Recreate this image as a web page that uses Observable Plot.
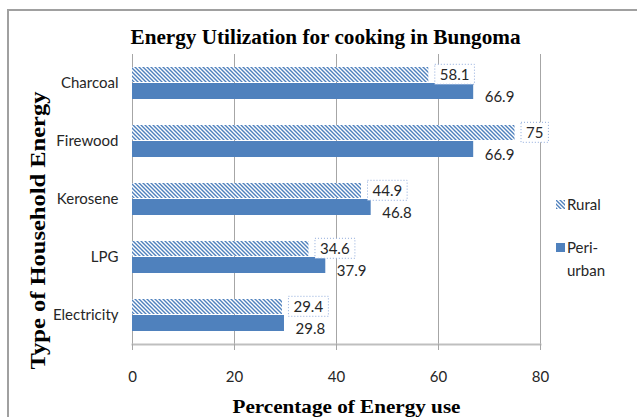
<!DOCTYPE html>
<html><head><meta charset="utf-8">
<script src="https://cdn.jsdelivr.net/npm/d3@7"></script>
<script src="https://cdn.jsdelivr.net/npm/@observablehq/plot@0.6"></script>
<style>
body{margin:0;overflow:hidden;background:#fff}
#wrap{position:relative;width:637px;height:417px;overflow:hidden}
#border{position:absolute;left:7px;top:9px;width:700px;height:500px;border:2px solid #a0a0a0;box-sizing:border-box}
.leg{position:absolute;font-family:Lato,sans-serif;font-size:15px;color:#262626;line-height:23px}
.sw{position:absolute;width:9px;height:9px}
</style>
</head><body>
<svg width="0" height="0" style="position:absolute"><defs>
<pattern id="hatch" patternUnits="userSpaceOnUse" width="4" height="4">
<rect width="4" height="4" fill="#fff"/>
<path d="M-1,-1L5,5M-1,3L1,5M3,-1L5,1" stroke="#4F81BD" stroke-width="1.4"/>
</pattern></defs></svg>
<div id="wrap"><div id="border"></div></div>
<script>
const categories = ["Charcoal","Firewood","Kerosene","LPG","Electricity"];
const rural = [58.1, 75, 44.9, 34.6, 29.4];
const periUrban = [66.9, 66.9, 46.8, 37.9, 29.8];
const xTicks = [0, 20, 40, 60, 80];
const seriesNames = ["Rural", "Peri-urban"];
const title = "Energy Utilization for cooking in Bungoma";
const xLabel = "Percentage of Energy use";
const yLabel = "Type of Household Energy";

const ruralData = categories.map((c, i) => ({category: c, value: rural[i]}));
const periData = categories.map((c, i) => ({category: c, value: periUrban[i]}));

const serif = "'Liberation Serif', 'Times New Roman', serif";

const chart = Plot.plot({
  width: 637, height: 417,
  marginLeft: 132, marginRight: 97, marginTop: 54, marginBottom: 73,
  style: {fontFamily: "Lato, sans-serif", fontSize: "15px", color: "#262626", background: "transparent"},
  x: {domain: [0, 80], label: null},
  y: {domain: categories, padding: 0, label: null},
  marks: [
    Plot.ruleX(xTicks, {stroke: "#a6a6a6", strokeWidth: 1}),
    Plot.frame({anchor: "bottom", stroke: "#bfbfbf", strokeWidth: 2}),
    Plot.axisX({ticks: xTicks, tickSize: 6, tickPadding: 21, stroke: "#a6a6a6", fill: "#262626", fontSize: 15, label: null}),
    Plot.axisY({tickSize: 0, tickPadding: 14, fill: "#262626", fontSize: 15, label: null}),
    Plot.barX(ruralData, {y: "category", x: "value", fill: "url(#hatch)", insetTop: 13, insetBottom: 30}),
    Plot.barX(periData, {y: "category", x: "value", fill: "#4F81BD", insetTop: 29, insetBottom: 13}),
    Plot.text(ruralData, {y: "category", x: "value", text: d => String(d.value), textAnchor: "start", dx: 11, dy: -8, fontSize: 15, fill: "#262626"}),
    Plot.text(periData, {y: "category", x: "value", text: d => String(d.value), textAnchor: "start", dx: 11, dy: 14, fontSize: 15, fill: "#262626"}),
    Plot.text([title], {text: d => d, frameAnchor: "top", lineAnchor: "middle", textAnchor: "middle", dx: -11, dy: -17, fontFamily: serif, fontWeight: "bold", fontSize: 21, fill: "#000"}),
    Plot.text([xLabel], {text: d => d, frameAnchor: "bottom", lineAnchor: "middle", textAnchor: "middle", dx: 10, dy: 63, fontFamily: serif, fontWeight: "bold", fontSize: 18, fill: "#000"}),
    Plot.text([yLabel], {text: d => d, frameAnchor: "left", lineAnchor: "middle", textAnchor: "middle", rotate: -90, dx: -94, dy: 31, fontFamily: serif, fontWeight: "bold", fontSize: 21, fill: "#000"})
  ]
});

const wrap = document.getElementById("wrap");
chart.style.position = "absolute";
chart.style.left = "0px";
chart.style.top = "0px";
wrap.appendChild(chart);

// dotted boxes behind the rural data labels
const textGroups = chart.querySelectorAll('g[aria-label="text"]');
if (textGroups.length) {
  const g = textGroups[0];
  g.querySelectorAll("text").forEach(t => {
    const b = t.getBBox();
    const r = document.createElementNS("http://www.w3.org/2000/svg", "rect");
    r.setAttribute("x", b.x - 5);
    r.setAttribute("y", b.y - 1);
    r.setAttribute("width", b.width + 10);
    r.setAttribute("height", b.height + 2);
    r.setAttribute("fill", "#fff");
    r.setAttribute("stroke", "#8eaadb");
    r.setAttribute("stroke-dasharray", "1,2");
    r.setAttribute("transform", t.getAttribute("transform") || "");
    g.insertBefore(r, t);
  });
}
// stretch titles to reference lengths
const lengths = {[title]: 390, [xLabel]: 228, [yLabel]: 278};
chart.querySelectorAll("text").forEach(t => {
  const L = lengths[t.textContent];
  if (L) { t.setAttribute("textLength", L); t.setAttribute("lengthAdjust", "spacingAndGlyphs"); }
});

// legend
const legend = [
  {name: seriesNames[0], fill: "url(#hatch)", top: 200, ttop: 193},
  {name: seriesNames[1], fill: "#4F81BD", top: 243, ttop: 236}
];
legend.forEach(l => {
  const sw = document.createElementNS("http://www.w3.org/2000/svg", "svg");
  sw.setAttribute("class", "sw");
  sw.setAttribute("width", 9); sw.setAttribute("height", 9);
  sw.style.left = "556px"; sw.style.top = l.top + "px";
  sw.innerHTML = `<rect width="9" height="9" fill="${l.fill}"/>`;
  wrap.appendChild(sw);
  const d = document.createElement("div");
  d.className = "leg";
  d.style.left = "567px"; d.style.top = l.ttop + "px";
  d.innerHTML = l.name.replace("-", "-<br>");
  wrap.appendChild(d);
});
</script>
</body></html>
